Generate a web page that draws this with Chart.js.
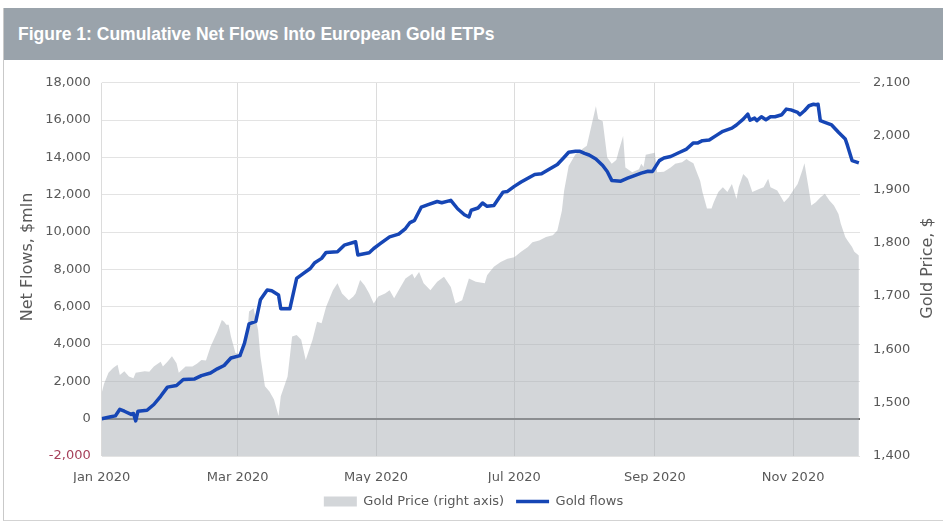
<!DOCTYPE html>
<html>
<head>
<meta charset="utf-8">
<script src="https://cdn.jsdelivr.net/npm/chart.js@4.4.1/dist/chart.umd.min.js"></script>
<style>
  html, body { margin: 0; padding: 0; background: #fff; }
  #frame { position: absolute; left: 3px; top: 8px; width: 940px; height: 512px; border-left: 1px solid #c9c9c9; border-bottom: 1px solid #d3d3d3; }
  #title { position: absolute; left: 0; top: 0; width: 940px; height: 52px; background: #9aa3ab; color: #fff;
           font: bold 17.5px "Liberation Sans", Arial, sans-serif; display: flex; align-items: center; padding-left: 14px; box-sizing: border-box; }
  #wrap { position: absolute; left: 0; top: 54px; width: 939px; height: 456px; }
</style>
</head>
<body>
<div id="frame">
  <div id="title">Figure 1: Cumulative Net Flows Into European Gold ETPs</div>
  <div id="wrap"><canvas id="chart" width="939" height="456"></canvas></div>
</div>
<script>
// days counted from 1 Jan 2020
const monthDays = [0, 60, 121, 182, 244, 305];
const monthLabels = ["Jan 2020", "Mar 2020", "May 2020", "Jul 2020", "Sep 2020", "Nov 2020"];

const leftTitle = "Net Flows, $mln";
const rightTitle = "Gold Price, $";

// cumulative net flows, $mln
const flowDays = [0, 4, 6, 8, 10, 13, 14, 15, 16, 20,
  23, 26, 29, 33, 36, 41, 44, 48, 51, 54,
  57, 61, 63, 65, 68, 70, 73, 75, 78, 79,
  83, 86, 89, 92, 94, 97, 99, 104, 107, 112,
  113, 118, 120, 123, 127, 131, 134, 136, 138, 141,
  144, 148, 150, 154, 157, 160, 162, 163, 166, 168,
  170, 173, 175, 177, 179, 182, 185, 188, 191, 194,
  197, 201, 204, 206, 209, 211, 213, 215, 218, 221,
  223, 225, 229, 232, 235, 238, 241, 243, 246, 248,
  251, 255, 258, 261, 263, 265, 268, 271, 274, 278,
  280, 283, 285, 286, 288, 289, 291, 293, 295, 297,
  300, 302, 304, 307, 308, 310, 312, 314, 315, 316,
  317, 319, 322, 325, 328, 329, 331, 334];
const flowValues = [0, 100, 150, 500, 400, 230, 280, -120, 400, 450,
  760, 1200, 1690, 1780, 2100, 2130, 2310, 2450, 2670, 2850,
  3250, 3380, 4050, 5080, 5210, 6370, 6900, 6860, 6630, 5890,
  5890, 7520, 7790, 8050, 8360, 8590, 8910, 8940, 9300, 9480,
  8770, 8890, 9120, 9390, 9740, 9890, 10190, 10510, 10630, 11340,
  11470, 11640, 11570, 11700, 11250, 10930, 10810, 11170, 11290, 11560,
  11380, 11430, 11790, 12140, 12180, 12450, 12680, 12890, 13090, 13120,
  13340, 13620, 14010, 14280, 14330, 14330, 14220, 14130, 13920, 13570,
  13250, 12770, 12730, 12890, 13030, 13160, 13260, 13250, 13830, 13970,
  14050, 14280, 14450, 14780, 14780, 14900, 14930, 15170, 15400, 15570,
  15740, 16050, 16320, 16000, 16110, 15970, 16180, 16020, 16180, 16180,
  16290, 16590, 16550, 16410, 16290, 16500, 16770, 16850, 16820, 16850,
  15970, 15880, 15740, 15350, 14990, 14630, 13830, 13710];

// gold price, $
const priceDays = [0, 1, 3, 5, 7, 8, 10, 12, 14, 15,
  19, 21, 23, 26, 27, 29, 31, 33, 34, 37,
  40, 42, 44, 46, 48, 51, 53, 54, 55, 56,
  57, 59, 62, 64, 65, 67, 69, 70, 72, 74,
  76, 78, 79, 82, 84, 86, 88, 90, 93, 95,
  97, 99, 102, 104, 106, 109, 111, 112, 114, 116,
  118, 120, 122, 125, 127, 129, 131, 134, 137, 138,
  140, 142, 145, 148, 151, 154, 156, 159, 162, 165,
  169, 170, 173, 176, 179, 182, 185, 188, 190, 193,
  196, 199, 201, 203, 204, 206, 209, 212, 214, 216,
  218, 219, 221, 223, 225, 227, 228, 230, 231, 234,
  237, 238, 239, 240, 242, 244, 245, 248, 251, 253,
  256, 258, 259, 261, 262, 264, 265, 267, 269, 270,
  272, 274, 276, 278, 280, 281, 283, 285, 287, 290,
  292, 294, 295, 298, 301, 303, 305, 307, 309, 310,
  312, 313, 315, 317, 319, 321, 323, 325, 326, 328,
  329, 331, 332, 334];
const priceValues = [1518, 1535, 1556, 1565, 1571, 1552, 1559, 1549, 1546, 1556,
  1559, 1558, 1568, 1577, 1568, 1577, 1587, 1574, 1556, 1568,
  1568, 1573, 1580, 1579, 1605, 1633, 1655, 1652, 1646, 1646,
  1624, 1593, 1590, 1618, 1671, 1677, 1636, 1587, 1531, 1521,
  1506, 1475, 1512, 1549, 1624, 1627, 1618, 1580, 1618, 1652,
  1649, 1680, 1711, 1724, 1705, 1692, 1699, 1705, 1730, 1720,
  1705, 1686, 1699, 1705, 1711, 1696, 1711, 1733, 1742, 1733,
  1745, 1724, 1711, 1727, 1736, 1717, 1686, 1692, 1733, 1727,
  1724, 1739, 1755, 1764, 1770, 1773, 1783, 1792, 1801, 1804,
  1811, 1814, 1823, 1860, 1898, 1944, 1966, 1976, 1982, 2019,
  2056, 2032, 2028, 1960, 1948, 1955, 1971, 2000, 1941, 1932,
  1938, 1948, 1942, 1965, 1967, 1969, 1932, 1933, 1941, 1948,
  1951, 1957, 1954, 1949, 1938, 1916, 1895, 1864, 1864, 1876,
  1895, 1904, 1895, 1910, 1882, 1904, 1929, 1920, 1895, 1901,
  1904, 1920, 1904, 1898, 1876, 1885, 1898, 1910, 1935, 1949,
  1898, 1870, 1876, 1885, 1892, 1879, 1870, 1854, 1836, 1811,
  1804, 1792, 1783, 1776];

const TXT = "#595959";
const FONT = "DejaVu Sans";

const flowPoints = flowDays.map((d, i) => ({ x: d, y: flowValues[i] }));
const pricePoints = priceDays.map((d, i) => ({ x: d, y: priceValues[i] }));

// both axis titles read bottom-to-top, so draw them here
const axisTitles = {
  id: "axisTitles",
  afterDraw(chart) {
    const ctx = chart.ctx;
    ctx.save();
    ctx.fillStyle = TXT;
    ctx.font = "16px '" + FONT + "'";
    ctx.textAlign = "center";
    ctx.textBaseline = "middle";
    [[leftTitle, 24, 195], [rightTitle, 924, 206]].forEach(([t, x, y]) => {
      ctx.save();
      ctx.translate(x, y);
      ctx.rotate(-Math.PI / 2);
      ctx.fillText(t, 0, 0);
      ctx.restore();
    });
    ctx.restore();
  }
};

new Chart(document.getElementById("chart"), {
  type: "line",
  data: {
    datasets: [{
      label: "Gold Price (right axis)",
      data: pricePoints,
      yAxisID: "y1",
      fill: "start",
      backgroundColor: "rgba(168, 173, 180, 0.5)",
      borderWidth: 0,
      pointRadius: 0,
      pointStyle: "rect",
      tension: 0,
      order: 1
    }, {
      label: "Gold flows",
      data: flowPoints,
      yAxisID: "y",
      fill: false,
      borderColor: "#1646b5",
      backgroundColor: "#1646b5",
      borderWidth: 3.5,
      borderJoinStyle: "round",
      pointRadius: 0,
      pointStyle: "line",
      tension: 0,
      order: 0
    }]
  },
  options: {
    responsive: false,
    animation: false,
    layout: { padding: { top: 18, left: 0, right: 0, bottom: 0 } },
    plugins: {
      tooltip: { enabled: false },
      legend: {
        position: "bottom",
        labels: {
          usePointStyle: true,
          pointStyleWidth: 33,
          boxHeight: 10,
          color: TXT,
          font: { family: FONT, size: 13 },
          padding: 12,
          sort: (a, b) => a.datasetIndex - b.datasetIndex
        }
      }
    },
    scales: {
      x: {
        type: "linear",
        min: 0,
        max: 334.5,
        afterBuildTicks: (s) => { s.ticks = monthDays.map(v => ({ value: v })); },
        afterFit: (s) => { s.height = 27; },
        ticks: {
          autoSkip: false,
          maxRotation: 0,
          padding: 14,
          color: TXT,
          font: { family: FONT, size: 13 },
          callback: (v) => monthLabels[monthDays.indexOf(v)]
        },
        grid: { color: "#dcdcdc", drawTicks: false },
        border: { display: false }
      },
      y: {
        position: "left",
        min: -2000,
        max: 18000,
        afterFit: (s) => { s.width = 97.7; },
        ticks: {
          stepSize: 2000,
          padding: 11,
          color: (c) => c.tick.value < 0 ? "#a6405a" : TXT,
          font: { family: FONT, size: 13 }
        },
        grid: {
          color: (c) => c.tick.value === 0 ? "#6e6e6e" : "#e3e3e3",
          lineWidth: (c) => c.tick.value === 0 ? 2 : 1,
          drawTicks: false
        },
        border: { display: false }
      },
      y1: {
        position: "right",
        min: 1400,
        max: 2100,
        afterFit: (s) => { s.width = 83; },
        ticks: {
          stepSize: 100,
          padding: 13,
          color: TXT,
          font: { family: FONT, size: 13 }
        },
        grid: { display: false, drawTicks: false },
        border: { display: false }
      }
    }
  },
  plugins: [axisTitles]
});
</script>
</body>
</html>
